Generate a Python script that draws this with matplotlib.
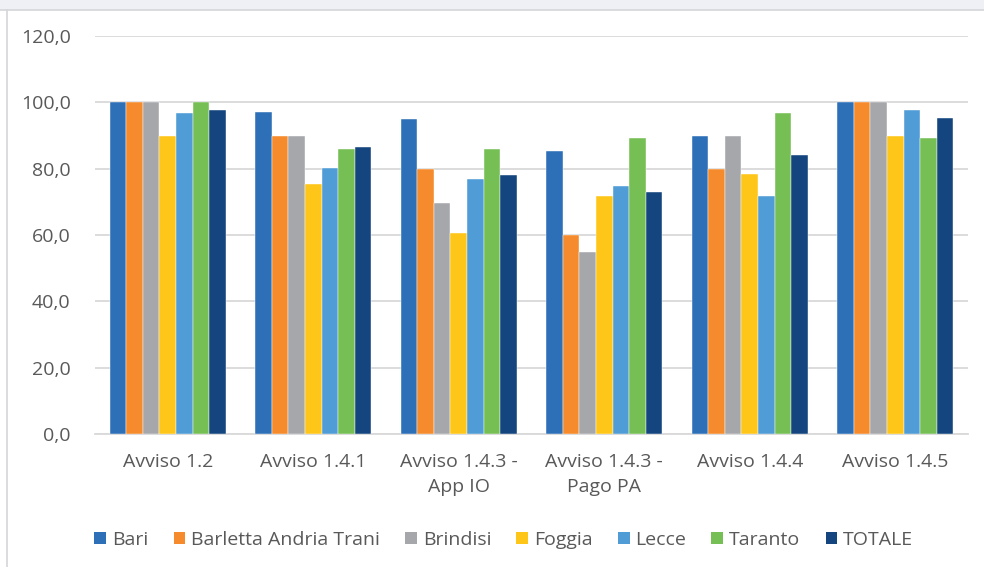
import matplotlib
matplotlib.use("Agg")
import matplotlib.pyplot as plt
import numpy as np
from matplotlib.patches import Rectangle
from matplotlib.lines import Line2D

categories = ["Avviso 1.2", "Avviso 1.4.1", "Avviso 1.4.3 -\nApp IO",
              "Avviso 1.4.3 -\nPago PA", "Avviso 1.4.4", "Avviso 1.4.5"]
series_names = ["Bari", "Barletta Andria Trani", "Brindisi", "Foggia",
                "Lecce", "Taranto", "TOTALE"]
bari = [100.0, 97.2, 94.9, 85.3, 89.8, 100.0]
bat = [100.0, 90.0, 79.8, 60.0, 79.8, 100.0]
brindisi = [100.0, 90.0, 69.5, 55.0, 89.8, 100.0]
foggia = [90.0, 75.3, 60.5, 71.8, 78.5, 89.8]
lecce = [96.7, 80.3, 76.9, 74.7, 71.8, 97.7]
taranto = [100.0, 85.9, 85.9, 89.3, 96.7, 89.3]
totale = [97.8, 86.5, 78.0, 73.0, 84.2, 95.4]
yticks = [0, 20, 40, 60, 80, 100, 120]

values = [bari, bat, brindisi, foggia, lecce, taranto, totale]
colors = ["#2e70b8", "#f58b2c", "#a5a7ab", "#ffc61a", "#4f9cd6", "#76bf55", "#15457e"]

plt.rcParams['font.family'] = ['Open Sans', 'DejaVu Sans']
text_color = "#595959"
grid_color = "#d9d9d9"
fs = 14

fig = plt.figure(figsize=(9.84, 5.67), dpi=100)
W, H = 984, 567
ax = fig.add_axes([95 / W, 1 - 434 / H, (968 - 95) / W, (434 - 36) / H])

# window chrome around the chart
fig.patches.append(Rectangle((0, 1 - 9.5 / H), 1, 9.5 / H, transform=fig.transFigure,
                             facecolor="#eef0f5", edgecolor="none", zorder=0))
fig.lines.append(Line2D([0, 1], [1 - 10 / H, 1 - 10 / H], transform=fig.transFigure,
                        color="#d4d6da", lw=1.2))
fig.lines.append(Line2D([7 / W, 7 / W], [0, 1 - 10 / H], transform=fig.transFigure,
                        color="#d4d6da", lw=1.2))

n = len(series_names)
group_w = 0.8
bw = group_w / n
x = np.arange(len(categories))
for i, (name, vals, c) in enumerate(zip(series_names, values, colors)):
    offs = -group_w / 2 + bw * (i + 0.5)
    ax.bar(x + offs, vals, width=bw, color=c, label=name, zorder=3,
           edgecolor="white", linewidth=0.3)

ax.set_xlim(-0.5, len(categories) - 0.5)
ax.set_ylim(0, 120)
ax.set_yticks(yticks)
ax.set_yticklabels([f"{v:.1f}".replace(".", ",") for v in yticks])
ax.set_xticks(x)
ax.set_xticklabels(categories, linespacing=1.45)
ax.yaxis.grid(True, color=grid_color, lw=1.3, zorder=0)
ax.set_axisbelow(True)
for s in ["top", "right", "left"]:
    ax.spines[s].set_visible(False)
ax.spines["bottom"].set_color(grid_color)
ax.spines["bottom"].set_linewidth(1.3)
ax.tick_params(axis="y", length=0, pad=17.5, labelsize=fs, labelcolor=text_color)
ax.tick_params(axis="x", length=0, pad=14, labelsize=fs, labelcolor=text_color)

handles = [Rectangle((0, 0), 1, 1, facecolor=c) for c in colors]
fig.legend(handles, series_names, loc="center", bbox_to_anchor=(0.512, 1 - 540 / H),
           ncol=n, frameon=False, fontsize=fs, handlelength=0.6, handleheight=0.6,
           handletextpad=0.3, columnspacing=1.3, labelcolor=text_color)

fig.savefig("out.png", dpi=100, facecolor="white")
